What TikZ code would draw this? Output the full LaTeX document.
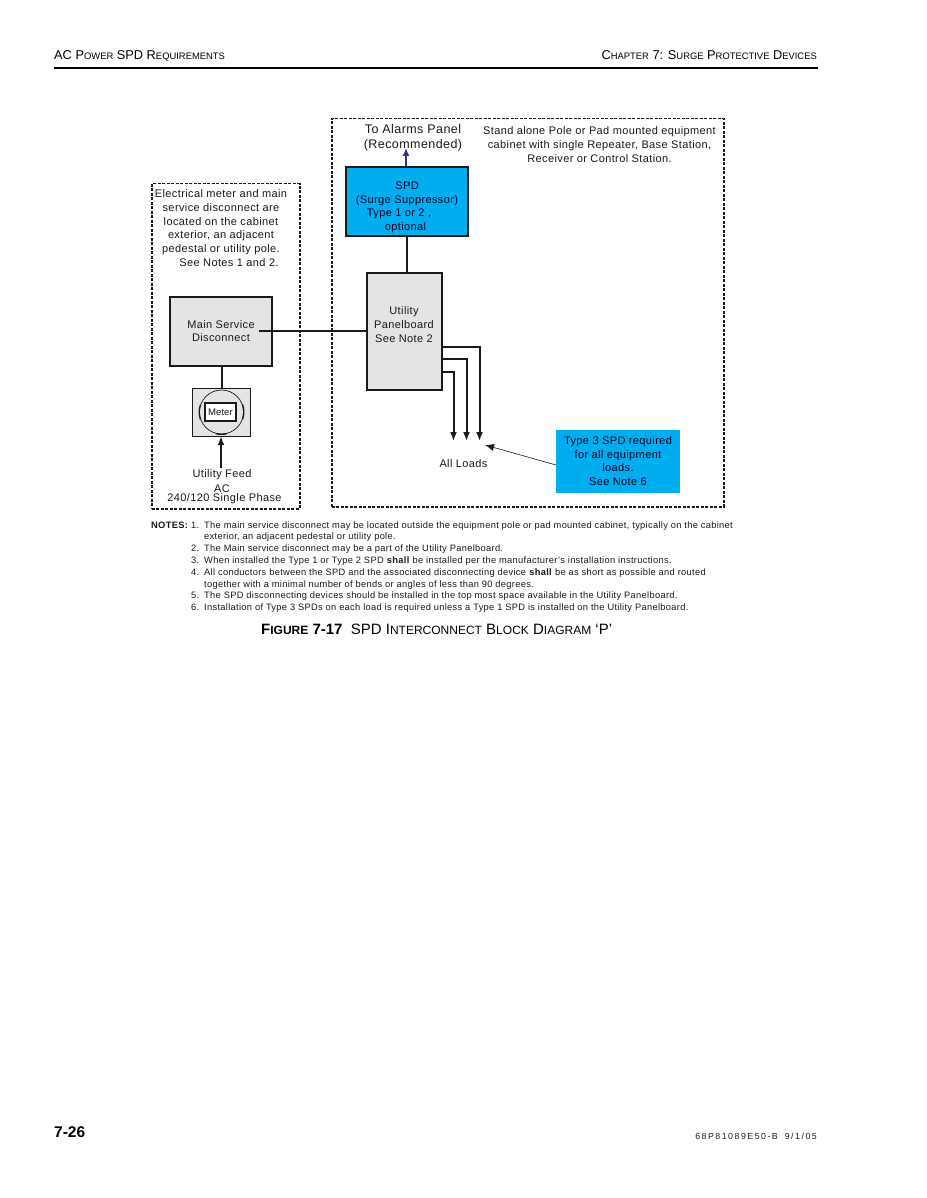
\documentclass[tikz,border=0pt]{standalone}
\usepackage{fontspec}
\setmainfont{Liberation Sans}
\newcommand{\capsB}[1]{{\fontsize{9.4}{12}\selectfont #1}}
\newcommand{\capsC}[1]{{\fontsize{12}{15}\selectfont #1}}
\definecolor{spdblue}{HTML}{00AEEF}
\definecolor{panelgray}{HTML}{E3E4E5}
\definecolor{inkblack}{HTML}{1A1A1A}
\definecolor{navyarrow}{HTML}{2E3192}
\usetikzlibrary{arrows.meta}
\tikzset{
  lbl/.style={inner sep=0pt,font=\fontsize{11}{13.7}\selectfont\addfontfeature{LetterSpace=3.5},text=inkblack,align=center},
  big/.style={inner sep=0pt,font=\fontsize{12.5}{15}\selectfont\addfontfeature{LetterSpace=3.5},text=inkblack,align=center},
  note/.style={inner sep=0pt,anchor=base west,font=\fontsize{9.3}{10}\selectfont\addfontfeature{LetterSpace=3.4},text=inkblack},
  hdr/.style={inner sep=0pt,font=\fontsize{12.8}{14}\selectfont,text=black},
  boxg/.style={draw=inkblack,line width=2pt,fill=panelgray},
  wire/.style={draw=inkblack,line width=2pt},
  ahead/.style={-{Latex[length=9pt,width=7pt]}},
  dashbox/.style={draw=inkblack,line width=1.5pt,dash pattern=on 3pt off 1.5pt},
}
\begin{document}
\begin{tikzpicture}[x=1pt,y=-1pt]
\useasboundingbox[fill=white] (0,0) rectangle (926,1198);
% page header
\node[hdr,anchor=base west] (hl) at (54,60) {AC P\capsB{OWER} SPD R\capsB{EQUIREMENTS}};
\node[hdr,anchor=base east] (hr) at (817,60) {C\capsB{HAPTER} 7: S\capsB{URGE} P\capsB{ROTECTIVE} D\capsB{EVICES}};
\coordinate (ruleL) at (54,68);
\coordinate (ruleR) at (818,68);
\draw[black,line width=1.2pt] (ruleL) -- (ruleR);
% dashed regions
\node[dashbox,minimum width=148pt,minimum height=325pt,anchor=north west,inner sep=0pt] (leftzone) at (151,183) {};
\node[dashbox,minimum width=392pt,minimum height=388pt,anchor=north west,inner sep=0pt] (rightzone) at (331,118) {};
% blocks
\node[boxg,fill=spdblue,minimum width=122pt,minimum height=69pt,anchor=north west,inner sep=0pt] (spd) at (345,166) {};
\node[boxg,minimum width=75pt,minimum height=117pt,anchor=north west,inner sep=0pt] (panel) at (366,272) {};
\node[boxg,minimum width=102pt,minimum height=69pt,anchor=north west,inner sep=0pt] (msd) at (169,296) {};
\node[draw=inkblack,line width=1.2pt,fill=panelgray,minimum width=58pt,minimum height=48pt,anchor=north west,inner sep=0pt] (meterbox) at (192,388) {};
\node[fill=spdblue,minimum width=124pt,minimum height=63pt,anchor=north west,inner sep=0pt] (t3) at (556,430) {};
% meter
\node[circle,draw=inkblack,line width=.7pt,minimum size=44pt,inner sep=0pt] (dial) at (221.5,412) {};
\draw[inkblack,line width=1.3pt] (dial.200) arc[start angle=200,end angle=160,radius=22pt];
\draw[inkblack,line width=1.3pt] (dial.20) arc[start angle=20,end angle=-20,radius=22pt];
\draw[inkblack,line width=1.3pt] (dial.255) arc[start angle=255,end angle=285,radius=22pt];
\node[draw=inkblack,line width=1.2pt,fill=white,minimum width=31pt,minimum height=18pt,inner sep=0pt,font=\fontsize{9.6}{10}\selectfont,text=inkblack] (meter) at (220.5,412) {Meter};
% connectors
\coordinate (msdin) at (259,331);
\coordinate (panelW) at (366,331);
\draw[wire] (msdin) -- (panelW);
\draw[wire] (spd.south) -- (panel.north -| spd.south);
\draw[wire] (msd.south -| meterbox.north) -- (meterbox.north);
\coordinate (feed) at (221,468);
\draw[wire,ahead] (feed) -- ([yshift=1pt]meterbox.south -| feed);
\coordinate (alarm) at (406,148);
\draw[navyarrow,line width=1.8pt,-{Latex[length=8pt,width=7pt]}] (spd.north -| alarm) -- (alarm);
\coordinate (o1s) at (442,347); \coordinate (o1c) at (479.5,347); \coordinate (o1e) at (479.5,441);
\coordinate (o2s) at (442,359); \coordinate (o2c) at (466.5,359); \coordinate (o2e) at (466.5,441);
\coordinate (o3s) at (442,372); \coordinate (o3c) at (453.5,372); \coordinate (o3e) at (453.5,441);
\draw[wire,ahead] (o1s) -- (o1c) -- (o1e);
\draw[wire,ahead] (o2s) -- (o2c) -- (o2e);
\draw[wire,ahead] (o3s) -- (o3c) -- (o3e);
\coordinate (t3w) at (556,465);
\coordinate (t3tip) at (485,445);
\draw[inkblack,line width=.6pt,-{Latex[length=9pt,width=7pt]}] (t3w) -- (t3tip);
% labels
\node[lbl] (elec) at (221,228) {Electrical meter and main\\service disconnect are\\located on the cabinet\\exterior, an adjacent\\pedestal or utility pole.\\\hspace*{16pt}See Notes 1 and 2.};
\node[lbl] (msdt) at (221,331) {Main Service\\Disconnect};
\node[lbl] (feedt) at (222,475) {Utility Feed};
\node[lbl] (act) at (222,488.5) {AC};
\node[lbl] (phase) at (224.5,498.5) {240/120 Single Phase};
\node[big,align=center] (alarmt) at (413,137.5) {To Alarms Panel\\(Recommended)};
\node[lbl] (standalone) at (599.5,144.5) {Stand alone Pole or Pad mounted equipment\\cabinet with single Repeater, Base Station,\\Receiver or Control Station.};
\node[lbl,text=black!85!blue] (spdt) at (407,193.5) {SPD\\(Surge Suppressor)};
\node[lbl,text=black!85!blue] (spdtb) at (399,221) {Type 1 or 2 ,\\\hspace*{13pt}optional};
\node[lbl] (panelt) at (404,324.5) {Utility\\Panelboard\\See Note 2};
\node[lbl] (loads) at (463.5,463.5) {All Loads};
\node[lbl,text=black!85!blue] (t3t) at (618,461) {Type 3 SPD required\\for all equipment\\loads.\\See Note 6};
% notes
\node[note,font=\fontsize{9.3}{10}\selectfont\bfseries\addfontfeature{LetterSpace=3.4}] (nn) at (151,528) {NOTES:};
\node[note] (n1) at (191,528) {1.};
\node[note] (n1a) at (204,528) {The main service disconnect may be located outside the equipment pole or pad mounted cabinet, typically on the cabinet};
\node[note] (n1b) at (204,539) {exterior, an adjacent pedestal or utility pole.};
\node[note] (n2) at (191,551) {2.};
\node[note] (n2a) at (204,551) {The Main service disconnect may be a part of the Utility Panelboard.};
\node[note] (n3) at (191,563.5) {3.};
\node[note] (n3a) at (204,563.5) {When installed the Type 1 or Type 2 SPD \textbf{shall} be installed per the manufacturer's installation instructions.};
\node[note] (n4) at (191,575.5) {4.};
\node[note] (n4a) at (204,575.5) {All conductors between the SPD and the associated disconnecting device \textbf{shall} be as short as possible and routed};
\node[note] (n4b) at (204,587) {together with a minimal number of bends or angles of less than 90 degrees.};
\node[note] (n5) at (191,598.5) {5.};
\node[note] (n5a) at (204,598.5) {The SPD disconnecting devices should be installed in the top most space available in the Utility Panelboard.};
\node[note] (n6) at (191,610.5) {6.};
\node[note] (n6a) at (204,610.5) {Installation of Type 3 SPDs on each load is required unless a Type 1 SPD is installed on the Utility Panelboard.};
% caption
\node[inner sep=0pt,anchor=base west,text=black] (cap) at (261,634) {\fontsize{15}{17}\selectfont\textbf{F{\fontsize{12}{15}\selectfont IGURE} 7-17}\ \ SPD I\capsC{NTERCONNECT} B\capsC{LOCK} D\capsC{IAGRAM} ‘P’};
% footer
\node[inner sep=0pt,anchor=base west,font=\fontsize{15.5}{17}\selectfont\bfseries] (pg) at (54,1137) {7-26};
\node[inner sep=0pt,anchor=base east,font=\fontsize{8.8}{10}\selectfont\addfontfeature{LetterSpace=17},text=inkblack] (docid) at (817,1139) {68P81089E50-B\hspace{7pt}9/1/05};
\end{tikzpicture}
\end{document}
